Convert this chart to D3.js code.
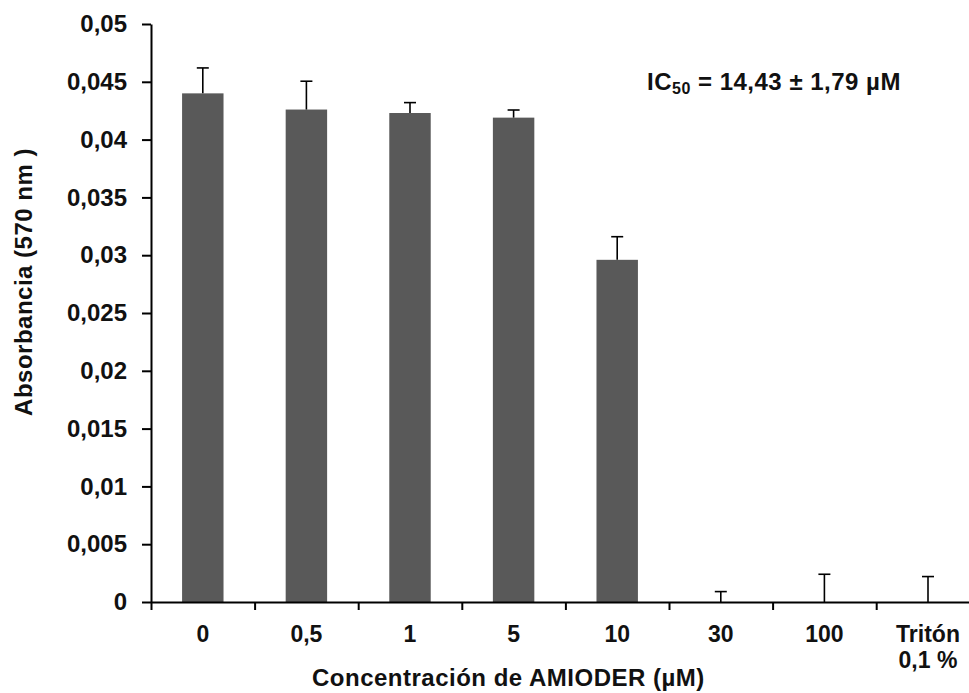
<!DOCTYPE html>
<html>
<head>
<meta charset="utf-8">
<script src="https://cdn.jsdelivr.net/npm/d3@7"></script>
<style>
  body { margin: 0; background: #fff; }
  text { font-family: "Liberation Sans", Arial, sans-serif; font-weight: bold; fill: #111; }
</style>
</head>
<body>
<div id="chart"></div>
<script>
// DATA //
const categories = ["0", "0,5", "1", "5", "10", "30", "100", "Tritón|0,1 %"];
const absorbance = [0.044, 0.0426, 0.0423, 0.0419, 0.0296, 0, 0, 0];
const errorSD = [0.0022, 0.00245, 0.0009, 0.00066, 0.002, 0.0009, 0.0024, 0.0022];
const yTicks = [0, 0.005, 0.01, 0.015, 0.02, 0.025, 0.03, 0.035, 0.04, 0.045, 0.05];
const yTickLabels = ["0", "0,005", "0,01", "0,015", "0,02", "0,025", "0,03", "0,035", "0,04", "0,045", "0,05"];

const width = 969;
const height = 693;
const margin = { top: 24, left: 151, bottom: 91 };
const step = 103.6;

const data = categories.map((c, i) => ({ cat: c, value: absorbance[i], err: errorSD[i] }));

const svg = d3
  .select("#chart")
  .append("svg")
  .attr("width", width)
  .attr("height", height);

const x = d3
  .scaleBand()
  .domain(categories)
  .range([margin.left, margin.left + step * categories.length])
  .paddingInner(0.6)
  .paddingOuter(0.3);

const y = d3
  .scaleLinear()
  .domain([0, 0.05])
  .range([height - margin.bottom, margin.top]);

// bars
svg
  .selectAll(".bar")
  .data(data)
  .enter()
  .append("rect")
  .attr("class", "bar")
  .attr("x", (d) => x(d.cat))
  .attr("width", x.bandwidth())
  .attr("y", (d) => y(d.value))
  .attr("height", (d) => y(0) - y(d.value))
  .attr("fill", "#595959");

// error bars (upper only)
const errG = svg.append("g").attr("stroke", "#000").attr("stroke-width", 1.6);
errG
  .selectAll(".err")
  .data(data)
  .enter()
  .append("line")
  .attr("x1", (d) => x(d.cat) + x.bandwidth() / 2)
  .attr("x2", (d) => x(d.cat) + x.bandwidth() / 2)
  .attr("y1", (d) => y(d.value))
  .attr("y2", (d) => y(d.value + d.err));
errG
  .selectAll(".cap")
  .data(data)
  .enter()
  .append("line")
  .attr("x1", (d) => x(d.cat) + x.bandwidth() / 2 - 6)
  .attr("x2", (d) => x(d.cat) + x.bandwidth() / 2 + 6)
  .attr("y1", (d) => y(d.value + d.err))
  .attr("y2", (d) => y(d.value + d.err));

// x axis: line + ticks at band edges
const xEdges = d3
  .scaleLinear()
  .domain([0, categories.length])
  .range(x.range());

const xAxis = svg
  .append("g")
  .attr("transform", `translate(0,${y(0)})`)
  .call(
    d3.axisBottom(xEdges)
      .tickValues(d3.range(0, categories.length + 1))
      .tickFormat("")
      .tickSize(8)
      .tickSizeOuter(0)
  );
xAxis.selectAll("path, line").attr("stroke", "#000").attr("stroke-width", 2);

// x labels
const xLabels = svg
  .selectAll(".xlab")
  .data(categories)
  .enter()
  .append("text")
  .attr("class", "xlab")
  .attr("text-anchor", "middle")
  .attr("font-size", 23)
  .attr("y", y(0) + 40);
xLabels
  .selectAll("tspan")
  .data((d) => d.split("|").map((t) => ({ t, c: d })))
  .enter()
  .append("tspan")
  .attr("x", (d) => x(d.c) + x.bandwidth() / 2)
  .attr("dy", (d, i) => (i === 0 ? 0 : 26))
  .text((d) => d.t);

// y axis
const yAxis = svg
  .append("g")
  .attr("transform", `translate(${margin.left},0)`)
  .call(
    d3.axisLeft(y)
      .tickValues(yTicks)
      .tickFormat((d, i) => yTickLabels[i])
      .tickSize(9)
      .tickSizeOuter(0)
      .tickPadding(15)
  );
yAxis.selectAll("path, line").attr("stroke", "#000").attr("stroke-width", 2);
yAxis.attr("font-family", null).attr("font-size", null);
yAxis
  .selectAll("text")
  .attr("font-size", 24)
  .attr("fill", "#111");

// axis titles
svg
  .append("text")
  .attr("x", 312)
  .attr("y", 686)
  .attr("font-size", 24)
  .attr("letter-spacing", 0.5)
  .text("Concentración de AMIODER (µM)");

svg
  .append("text")
  .attr("transform", "translate(32,282) rotate(-90)")
  .attr("text-anchor", "middle")
  .attr("font-size", 24)
  .attr("letter-spacing", 0.5)
  .text("Absorbancia (570 nm )");

// IC50 note
const note = svg
  .append("text")
  .attr("x", 647)
  .attr("y", 90)
  .attr("font-size", 24)
  .attr("letter-spacing", 0.5);
note.append("tspan").text("IC");
note.append("tspan").attr("font-size", 16).attr("dy", 4).text("50");
note.append("tspan").attr("dy", -4).text(" = 14,43 ± 1,79 µM");
</script>
</body>
</html>
